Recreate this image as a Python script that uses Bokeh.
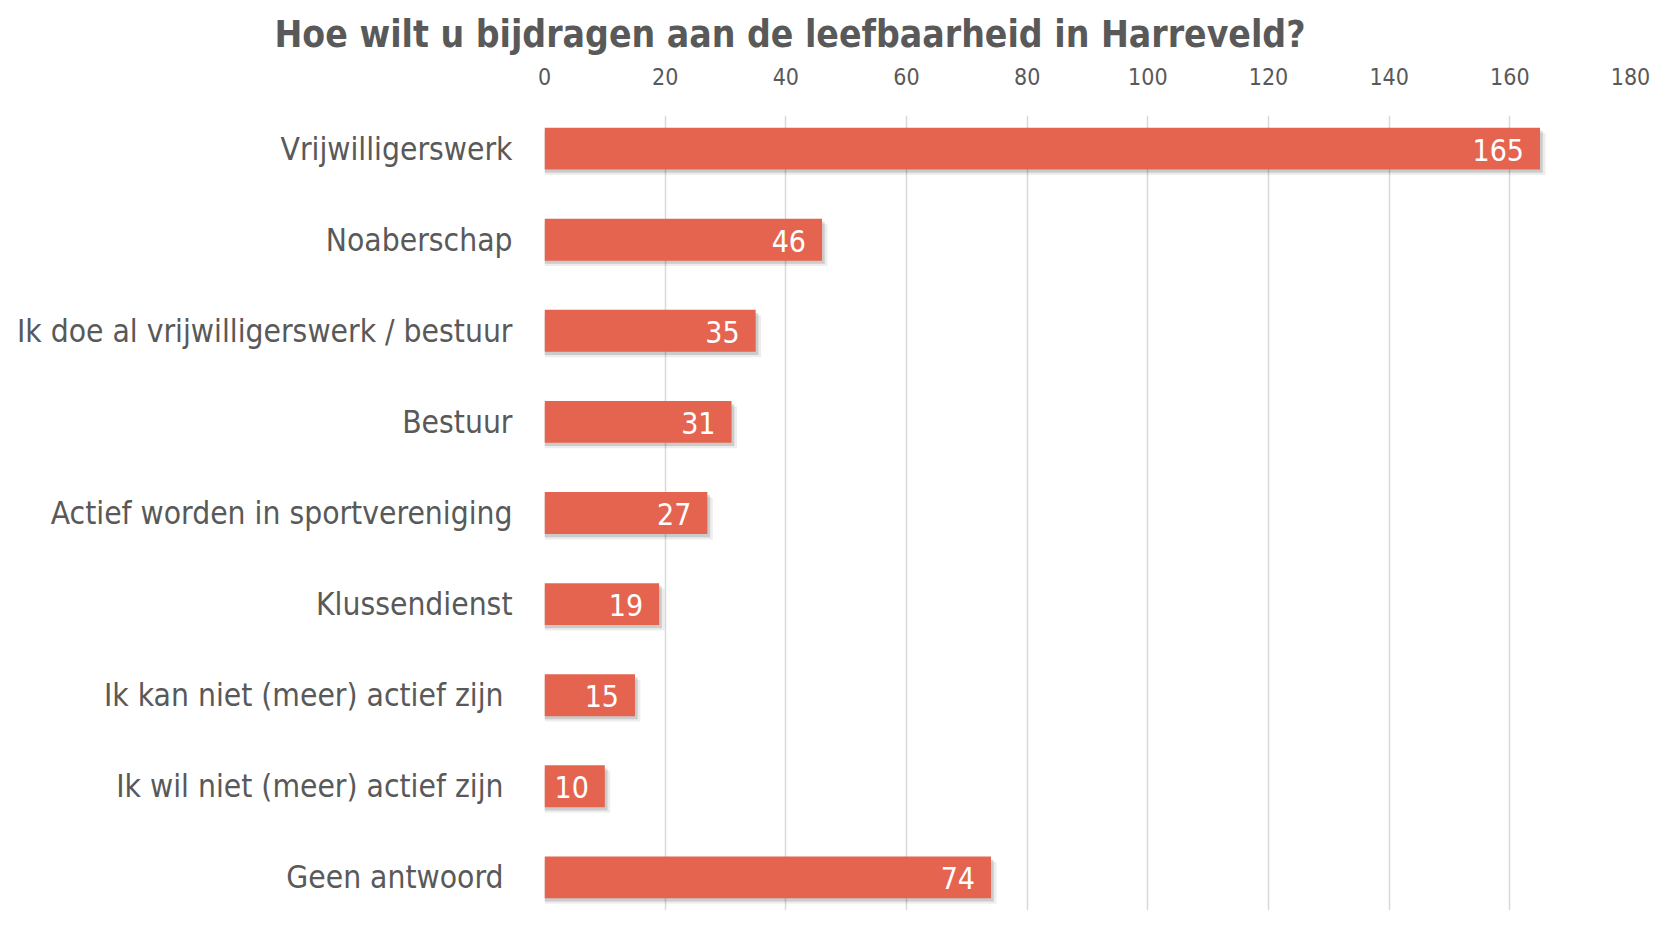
from bokeh.plotting import figure
from bokeh.models import Range1d, FactorRange, FixedTicker, ColumnDataSource, Title
from bokeh.transform import dodge
from bokeh.core.properties import value
from bokeh.embed import file_html
from bokeh.resources import INLINE

# ---- data ----
categories = [
    "Vrijwilligerswerk",
    "Noaberschap",
    "Ik doe al vrijwilligerswerk / bestuur",
    "Bestuur",
    "Actief worden in sportvereniging",
    "Klussendienst",
    "Ik kan niet (meer) actief zijn ",
    "Ik wil niet (meer) actief zijn ",
    "Geen antwoord ",
]
counts = [165, 46, 35, 31, 27, 19, 15, 10, 74]
x_ticks = [0, 20, 40, 60, 80, 100, 120, 140, 160, 180]
title_text = "Hoe wilt u bijdragen aan de leefbaarheid in Harreveld?"

# ---- style ----
FONT = "DejaVu Sans Condensed"
BAR = "#E5644F"
TEXT = "#595959"
GRID = "#D9D9D9"

src = ColumnDataSource(dict(
    cat=categories,
    count=counts,
    label=[str(c) for c in counts],
    shadow1=[c + 0.45 for c in counts],
    shadow2=[c + 0.9 for c in counts],
))

y_range = FactorRange(factors=list(reversed(categories)),
                      range_padding=-0.1366, range_padding_units="absolute")

p = figure(
    y_range=y_range, x_range=Range1d(0, 180),
    frame_width=1086, frame_height=795,
    min_border_left=544, min_border_right=21,
    min_border_top=115, min_border_bottom=0,
    x_axis_location="above",
    output_backend="svg", toolbar_location=None,
    title=None,
)

t = Title(text=title_text, align="left", offset=-270,
          text_font=FONT, text_font_size="37px", text_font_style="bold",
          text_color=TEXT, standoff=18)
p.add_layout(t, "above")

# shadows
p.hbar(y=dodge("cat", -0.06, range=p.y_range), left=0, right="shadow2",
       height=0.46, source=src, fill_color="#000000", fill_alpha=0.07,
       line_color=None)
p.hbar(y=dodge("cat", -0.035, range=p.y_range), left=0, right="shadow1",
       height=0.46, source=src, fill_color="#000000", fill_alpha=0.14,
       line_color=None)
# bars
p.hbar(y="cat", left=0, right="count", height=0.46, source=src,
       fill_color=BAR, line_color=None)
# data labels
p.text(x="count", y="cat", text="label", source=src,
       x_offset=-16, y_offset=1, text_align="right", text_baseline="middle",
       text_color="white", text_font=value(FONT), text_font_size="30px")

# axes
xa = p.xaxis[0]
xa.ticker = FixedTicker(ticks=x_ticks)
xa.axis_line_color = None
xa.major_tick_line_color = None
xa.minor_tick_line_color = None
xa.major_label_text_font = FONT
xa.major_label_text_font_size = "23px"
xa.major_label_text_color = TEXT
xa.major_label_standoff = 25

ya = p.yaxis[0]
ya.axis_line_color = None
ya.major_tick_line_color = None
ya.minor_tick_line_color = None
ya.major_label_text_font = FONT
ya.major_label_text_font_size = "31.5px"
ya.major_label_text_color = TEXT
ya.major_label_standoff = 26
ya.major_label_overrides = {c: c.rstrip() + "\u00a0" for c in categories if c.endswith(" ")}

p.xgrid.grid_line_color = GRID
p.xgrid.grid_line_width = 1.5
p.ygrid.grid_line_color = None
p.outline_line_color = None
p.background_fill_color = "white"
p.border_fill_color = "white"

open("out.html", "w").write(file_html(p, INLINE))
